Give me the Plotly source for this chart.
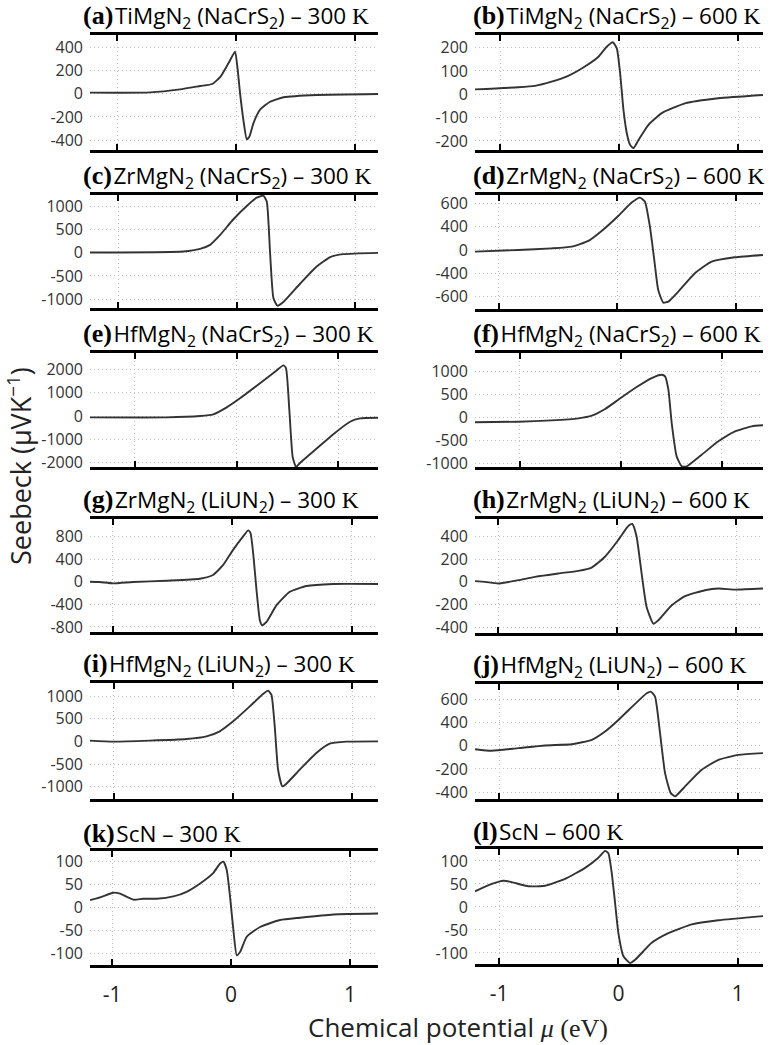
import plotly.graph_objects as go

W, H = 774, 1045


def px_x(x):
    return x / W


def px_y(y):
    return 1 - y / H


# ---------------- data (chemical potential mu in eV, Seebeck in uV/K) ----------------
mu_a = [-1.227, -0.72, -0.47, -0.30, -0.20, -0.13, -0.064, -0.008, 0.011, 0.034, 0.062, 0.09, 0.112, 0.146, 0.20, 0.286, 0.40, 0.68, 1.193]
S_a = [9, 11, 37, 66, 83, 146, 260, 360, 231, 3, -226, -391, -369, -254, -140, -69, -31, -11, -3]

mu_b = [-1.213, -0.85, -0.71, -0.57, -0.43, -0.29, -0.176, -0.106, -0.056, -0.022, 0.006, 0.034, 0.062, 0.09, 0.118, 0.16, 0.244, 0.356, 0.55, 0.83, 1.206]
S_b = [21, 30, 36, 54, 79, 119, 161, 204, 223, 197, 90, -67, -167, -217, -231, -196, -131, -81, -39, -17, -3]

mu_c = [-1.24, -0.45, -0.31, -0.225, -0.14, -0.028, 0.085, 0.169, 0.225, 0.254, 0.282, 0.31, 0.344, 0.394, 0.535, 0.676, 0.79, 0.90, 1.194]
S_c = [7, 29, 86, 173, 388, 727, 1014, 1194, 1237, 1108, -7, -978, -1144, -1065, -669, -295, -94, -29, 0]

mu_d = [-1.199, -0.834, -0.553, -0.385, -0.244, -0.132, 0.008, 0.121, 0.19, 0.233, 0.275, 0.312, 0.345, 0.388, 0.43, 0.514, 0.654, 0.795, 0.99, 1.228]
S_d = [-21, 0, 21, 43, 116, 244, 437, 609, 673, 621, 300, -129, -514, -677, -664, -536, -300, -150, -94, -64]

mu_e = [-1.442, -0.69, -0.36, -0.23, -0.098, 0.033, 0.23, 0.393, 0.459, 0.485, 0.518, 0.551, 0.584, 0.623, 0.787, 0.951, 1.115, 1.213, 1.39]
S_e = [-58, -58, 0, 72, 375, 765, 1415, 1964, 2181, 2065, 260, -1762, -2195, -2022, -1401, -780, -245, -101, -72]

mu_f = [-1.443, -1.013, -0.683, -0.419, -0.287, -0.155, -0.023, 0.142, 0.307, 0.406, 0.439, 0.472, 0.505, 0.554, 0.604, 0.653, 0.802, 0.967, 1.132, 1.297, 1.409]
S_f = [-108, -94, -65, -22, 36, 180, 383, 635, 852, 924, 888, 599, -123, -845, -1061, -1061, -809, -520, -303, -195, -173]

mu_g = [-1.19, -1.11, -0.997, -0.83, -0.55, -0.27, -0.16, -0.075, 0.008, 0.092, 0.134, 0.154, 0.176, 0.204, 0.232, 0.251, 0.288, 0.372, 0.483, 0.623, 0.846, 1.221]
S_g = [0, -6, -30, -6, 18, 53, 119, 296, 563, 800, 907, 859, 504, -148, -681, -770, -711, -415, -178, -77, -41, -41]

mu_h = [-1.196, -1.112, -1.0, -0.832, -0.692, -0.496, -0.328, -0.216, -0.104, 0.008, 0.092, 0.126, 0.162, 0.204, 0.246, 0.303, 0.345, 0.457, 0.569, 0.737, 0.849, 0.989, 1.224]
S_h = [6, 0, -15, 15, 44, 74, 97, 126, 221, 368, 491, 509, 397, 74, -221, -368, -338, -206, -126, -74, -59, -68, -59]

mu_i = [-1.2, -1.006, -0.698, -0.391, -0.223, -0.112, 0.0, 0.14, 0.251, 0.293, 0.321, 0.349, 0.377, 0.413, 0.447, 0.559, 0.698, 0.81, 0.95, 1.215]
S_i = [15, -7, 15, 51, 110, 221, 441, 772, 1044, 1118, 1029, 331, -625, -993, -934, -625, -257, -51, -7, 0]

mu_j = [-1.202, -1.061, -0.838, -0.615, -0.391, -0.223, -0.112, 0.0, 0.14, 0.237, 0.271, 0.307, 0.349, 0.391, 0.439, 0.475, 0.559, 0.698, 0.838, 1.006, 1.212]
S_j = [-29, -43, -20, 3, 14, 52, 124, 224, 363, 455, 469, 426, 109, -236, -409, -437, -351, -207, -121, -78, -63]

mu_k = [-1.185, -1.10, -0.989, -0.933, -0.82, -0.737, -0.625, -0.485, -0.373, -0.26, -0.148, -0.092, -0.064, -0.036, -0.008, 0.02, 0.048, 0.076, 0.132, 0.244, 0.412, 0.58, 0.86, 1.235]
S_k = [16, 22, 32, 30, 17, 19, 19, 24, 34, 52, 75, 95, 99, 81, 23, -49, -103, -96, -63, -42, -27, -22, -15, -13]

mu_l = [-1.202, -1.061, -0.964, -0.894, -0.754, -0.615, -0.447, -0.279, -0.168, -0.112, -0.084, -0.056, -0.028, 0.0, 0.042, 0.098, 0.14, 0.279, 0.419, 0.615, 0.838, 1.212]
S_l = [34, 50, 57, 54, 45, 46, 61, 85, 107, 122, 117, 74, 9, -57, -107, -122, -115, -78, -57, -38, -29, -20]

# tick values / labels
ticks_a = [-400, -200, 0, 200, 400]
ticks_b = [-200, -100, 0, 100, 200]
ticks_c = [-1000, -500, 0, 500, 1000]
ticks_d = [-600, -300, 0, 300, 600]
labels_d = ["-600", "-400", "0", "400", "600"]
ticks_e = [-2000, -1000, 0, 1000, 2000]
ticks_f = [-1000, -500, 0, 500, 1000]
ticks_g = [-800, -400, 0, 400, 800]
ticks_h = [-400, -200, 0, 200, 400]
ticks_i = [-1000, -500, 0, 500, 1000]
ticks_j = [-400, -200, 0, 200, 400]
labels_j = ["-400", "-200", "0", "400", "600"]
ticks_k = [-100, -50, 0, 50, 100]
ticks_l = [-100, -50, 0, 50, 100]
x_ticks = [-1, 0, 1]
x_labels = ["-1", "0", "1"]

titles = {
    "a": ("(a)", "TiMgN<sub>2</sub> (NaCrS<sub>2</sub>) – 300 ", "K"),
    "b": ("(b)", "TiMgN<sub>2</sub> (NaCrS<sub>2</sub>) – 600 ", "K"),
    "c": ("(c)", "ZrMgN<sub>2</sub> (NaCrS<sub>2</sub>) – 300 ", "K"),
    "d": ("(d)", "ZrMgN<sub>2</sub> (NaCrS<sub>2</sub>) – 600 ", "K"),
    "e": ("(e)", "HfMgN<sub>2</sub> (NaCrS<sub>2</sub>) – 300 ", "K"),
    "f": ("(f)", "HfMgN<sub>2</sub> (NaCrS<sub>2</sub>) – 600 ", "K"),
    "g": ("(g)", "ZrMgN<sub>2</sub> (LiUN<sub>2</sub>) – 300 ", "K"),
    "h": ("(h)", "ZrMgN<sub>2</sub> (LiUN<sub>2</sub>) – 600 ", "K"),
    "i": ("(i)", "HfMgN<sub>2</sub> (LiUN<sub>2</sub>) – 300 ", "K"),
    "j": ("(j)", "HfMgN<sub>2</sub> (LiUN<sub>2</sub>) – 600 ", "K"),
    "k": ("(k)", "ScN – 300 ", "K"),
    "l": ("(l)", "ScN – 600 ", "K"),
}

# ---------------- layout (pixel geometry of the reference window) ----------------
panels = [
    # key, x, y, xrange, yrange, tickvals, ticktext, col, top_px, bottom_px
    ("a", mu_a, S_a, [-1.227, 1.193], [-483, 503], ticks_a, None, 0, 35, 150),
    ("b", mu_b, S_b, [-1.213, 1.206], [-239, 254], ticks_b, None, 1, 35, 150),
    ("c", mu_c, S_c, [-1.24, 1.194], [-1194, 1252], ticks_c, None, 0, 195, 308),
    ("d", mu_d, S_d, [-1.199, 1.228], [-759, 707], ticks_d, labels_d, 1, 195, 309),
    ("e", mu_e, S_e, [-1.442, 1.39], [-2195, 2715], ticks_e, None, 0, 353, 467),
    ("f", mu_f, S_f, [-1.443, 1.409], [-1076, 1394], ticks_f, None, 1, 353, 467),
    ("g", mu_g, S_g, [-1.19, 1.221], [-889, 1108], ticks_g, None, 0, 519, 632),
    ("h", mu_h, S_h, [-1.196, 1.224], [-450, 553], ticks_h, None, 1, 519, 633),
    ("i", mu_i, S_i, [-1.2, 1.215], [-1272, 1287], ticks_i, None, 0, 683, 799),
    ("j", mu_j, S_j, [-1.202, 1.212], [-460, 535], ticks_j, labels_j, 1, 684, 799),
    ("k", mu_k, S_k, [-1.185, 1.235], [-124, 122], ticks_k, None, 0, 851, 965),
    ("l", mu_l, S_l, [-1.202, 1.212], [-124, 126], ticks_l, None, 1, 849, 964),
]

col_x = [(90, 378), (475, 763)]
title_left = [81, 471]

fig = go.Figure()
layout = dict(
    width=W, height=H, margin=dict(l=0, r=0, t=0, b=0, autoexpand=False),
    paper_bgcolor="white", plot_bgcolor="white", showlegend=False,
)
annotations = []
grid_col = "#c4c4c4"
grid_dash = "1px,3px"
serif = "Liberation Serif"
sans = "Open Sans"

for idx, (key, xs, ys, xr, yr, tv, tt, col, top, bot) in enumerate(panels):
    n = idx + 1
    xa = "xaxis" if n == 1 else f"xaxis{n}"
    ya = "yaxis" if n == 1 else f"yaxis{n}"
    xref = "x" if n == 1 else f"x{n}"
    yref = "y" if n == 1 else f"y{n}"
    fig.add_trace(go.Scatter(
        x=xs, y=ys, mode="lines", xaxis=xref, yaxis=yref,
        line=dict(color="#333333", width=1.9, shape="spline", smoothing=0.5),
        hoverinfo="skip", cliponaxis=True,
    ))
    x0, x1 = col_x[col]
    bottom_row = key in ("k", "l")
    layout[xa] = dict(
        domain=[px_x(x0), px_x(x1)], range=xr, anchor=yref,
        tickvals=x_ticks, ticktext=x_labels,
        showticklabels=bottom_row,
        ticks="inside", ticklen=6, tickwidth=2, tickcolor="black",
        showline=True, linecolor="black", linewidth=2.5, mirror="ticks",
        showgrid=True, gridcolor=grid_col, griddash=grid_dash, gridwidth=1,
        zeroline=False, ticklabelstandoff=9,
        tickfont=dict(family=sans, size=21, color="#222"),
    )
    layout[ya] = dict(
        domain=[px_y(bot), px_y(top)], range=yr, anchor=xref,
        tickvals=tv, ticktext=tt if tt else [str(v) for v in tv],
        ticks="", showline=False,
        showgrid=True, gridcolor=grid_col, griddash=grid_dash, gridwidth=1,
        zeroline=False, ticklabelstandoff=6,
        tickfont=dict(family=sans, size=16, color="#333"),
    )
    lab, body, kel = titles[key]
    annotations.append(dict(
        xref="paper", yref="paper",
        x=px_x(title_left[col]), y=px_y(top - 18),
        xanchor="left", yanchor="middle", showarrow=False,
        text=(f'<span style="font-family:{serif}"><b>{lab}</b></span>'
              f'<span style="font-size:6px"> </span>'
              f'<span style="font-size:22.5px">{body}</span>'
              f'<span style="font-family:{serif};font-size:23.5px">{kel}</span>'),
        font=dict(family=sans, size=26, color="black"),
    ))

annotations.append(dict(
    xref="paper", yref="paper", x=px_x(19), y=px_y(466),
    xanchor="center", yanchor="middle", showarrow=False, textangle=-90,
    text="Seebeck (μVK<sup>−1</sup>)",
    font=dict(family=sans, size=27, color="#222"),
))
annotations.append(dict(
    xref="paper", yref="paper", x=px_x(458), y=px_y(1027),
    xanchor="center", yanchor="middle", showarrow=False,
    text=(f'Chemical potential <span style="font-family:{serif}"><i>μ</i> (eV)</span>'),
    font=dict(family=sans, size=26, color="#222"),
))
layout["annotations"] = annotations
fig.update_layout(**layout)
fig.write_html(
    "out.html",
    config={"displayModeBar": False},
    post_script="document.body.style.margin='0px';document.body.style.overflow='hidden';",
)
